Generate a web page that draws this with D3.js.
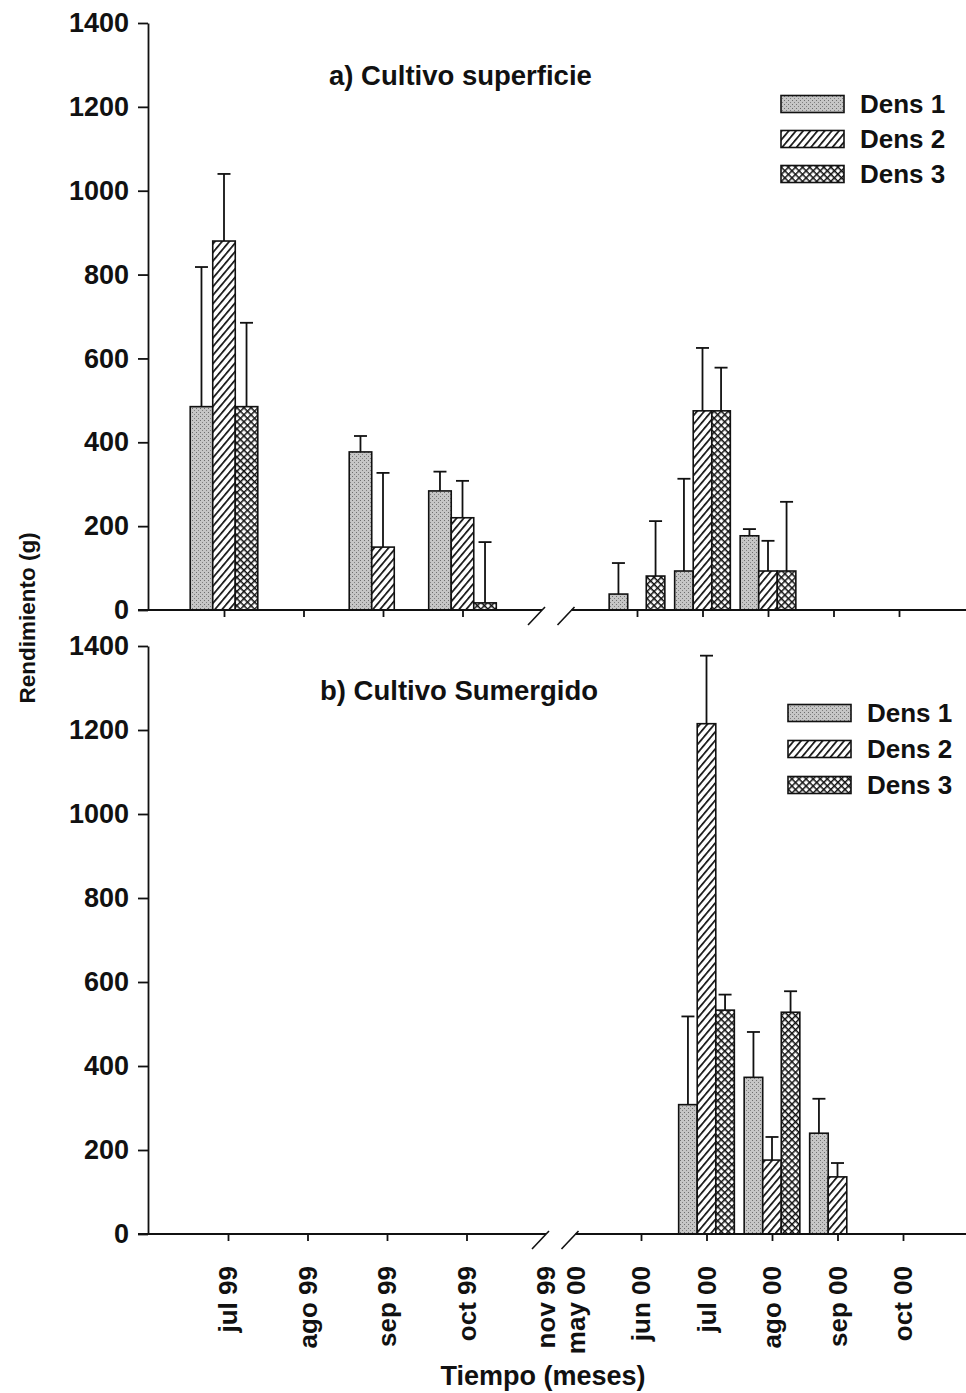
<!DOCTYPE html>
<html lang="es">
<head>
  <meta charset="UTF-8">
  <title>Rendimiento por densidad</title>
  <script src="https://d3js.org/d3.v7.min.js"></script>
  <style>
    body { margin: 0; padding: 0; background: #fff; }
    svg { display: block; font-family: "Liberation Sans", Arial, sans-serif; }
    .axis text { font-size: 27px; font-weight: bold; fill: #111; }
    .axis path, .axis line { stroke: #111; stroke-width: 1.8; }
  </style>
</head>
<body>
<svg width="966" height="1393"></svg>

<script>
  // months on the x axis (nov 99 / may 00 sit on the axis break)
  const months = ["jul 99","ago 99","sep 99","oct 99","nov 99","may 00","jun 00","jul 00","ago 00","sep 00","oct 00"];
  const series = ["Dens 1","Dens 2","Dens 3"];
  const yTicks = [0,200,400,600,800,1000,1200,1400];

  // a) Cultivo superficie  (mean, upper error)
  const supDens1    = [485,0,377,284,0,0,38,93,177,0,0];
  const supDens1Err = [333,0,38,46,0,0,74,220,16,0,0];
  const supDens2    = [880,0,150,220,0,0,0,475,93,0,0];
  const supDens2Err = [160,0,177,88,0,0,0,150,72,0,0];
  const supDens3    = [485,0,0,17,0,0,81,475,93,0,0];
  const supDens3Err = [200,0,0,145,0,0,131,103,165,0,0];

  // b) Cultivo Sumergido
  const sumDens1    = [0,0,0,0,0,0,0,308,373,240,0];
  const sumDens1Err = [0,0,0,0,0,0,0,210,108,82,0];
  const sumDens2    = [0,0,0,0,0,0,0,1215,176,136,0];
  const sumDens2Err = [0,0,0,0,0,0,0,162,55,33,0];
  const sumDens3    = [0,0,0,0,0,0,0,533,528,0,0];
  const sumDens3Err = [0,0,0,0,0,0,0,37,50,0,0];

  const svg = d3.select("svg");
  const defs = svg.append("defs");

  // fill patterns
  const p1 = defs.append("pattern").attr("id","pat0").attr("patternUnits","userSpaceOnUse")
    .attr("width",4).attr("height",4);
  p1.append("rect").attr("width",4).attr("height",4).attr("fill","#c6c6c6");
  p1.append("rect").attr("x",0).attr("y",0).attr("width",1).attr("height",1).attr("fill","#6e6e6e");
  p1.append("rect").attr("x",2).attr("y",2).attr("width",1).attr("height",1).attr("fill","#808080");

  const p2 = defs.append("pattern").attr("id","pat1").attr("patternUnits","userSpaceOnUse")
    .attr("width",5.5).attr("height",5.5).attr("patternTransform","rotate(40)");
  p2.append("rect").attr("width",5.5).attr("height",5.5).attr("fill","#fff");
  p2.append("line").attr("x1",0).attr("y1",0).attr("x2",0).attr("y2",5.5)
    .attr("stroke","#111").attr("stroke-width",3.4);

  const p3 = defs.append("pattern").attr("id","pat2").attr("patternUnits","userSpaceOnUse")
    .attr("width",5).attr("height",5).attr("patternTransform","rotate(45)");
  p3.append("rect").attr("width",5).attr("height",5).attr("fill","#fff");
  p3.append("line").attr("x1",0).attr("y1",0).attr("x2",0).attr("y2",5)
    .attr("stroke","#111").attr("stroke-width",3);
  p3.append("line").attr("x1",0).attr("y1",0).attr("x2",5).attr("y2",0)
    .attr("stroke","#111").attr("stroke-width",3);

  function drawPanel(cfg) {
    const g = svg.append("g");
    // piecewise x scale with a break between nov 99 and may 00
    const x = d3.scaleLinear().domain([0,4,5,10]).range(cfg.xRange);
    const y = d3.scaleLinear().domain([0,1400]).range([cfg.y0, cfg.y1]);
    const yb = y(0);

    // bars
    const data = [];
    cfg.values.forEach((vals, j) => {
      vals.forEach((v, i) => {
        if (v > 0) data.push({ i, j, v, e: cfg.errors[j][i] });
      });
    });
    const step = i => i <= 4 ? x(1) - x(0) : x(6) - x(5);
    const bw = i => 0.85 * step(i) / 3;
    const bx = d => x(d.i) + (d.j - 1.5) * bw(d.i);

    // error bars
    g.selectAll(".err").data(data.filter(d => d.e > 0)).join("g").attr("class","err")
      .each(function(d) {
        const cx = bx(d) + bw(d.i) / 2;
        const s = d3.select(this);
        s.append("line").attr("x1",cx).attr("x2",cx).attr("y1",y(d.v)).attr("y2",y(d.v + d.e))
          .attr("stroke","#111").attr("stroke-width",1.8);
        s.append("line").attr("x1",cx - 6.5).attr("x2",cx + 6.5).attr("y1",y(d.v + d.e)).attr("y2",y(d.v + d.e))
          .attr("stroke","#111").attr("stroke-width",1.8);
      });

    g.selectAll(".bar").data(data).join("rect").attr("class","bar")
      .attr("x", bx).attr("y", d => y(d.v))
      .attr("width", d => bw(d.i)).attr("height", d => yb - y(d.v))
      .attr("fill", d => `url(#pat${d.j})`)
      .attr("stroke","#111").attr("stroke-width",1.6);

    // y axis
    g.append("g").attr("class","axis").attr("transform",`translate(${cfg.yAxisX},0)`)
      .call(d3.axisLeft(y).tickValues(yTicks).tickFormat(d3.format("d"))
        .tickSize(10).tickSizeOuter(0).tickPadding(9));

    // x axis ticks (no ticks at the break)
    const xa = g.append("g").attr("class","axis").attr("transform",`translate(0,${yb})`)
      .call(d3.axisBottom(x).tickValues([0,1,2,3,6,7,8,9,10]).tickFormat("").tickSize(7));
    xa.select(".domain").remove();

    // broken baseline
    const bA = x(4), bB = x(5);
    [[cfg.yAxisX - 10, bA], [bB, 966]].forEach(s => {
      g.append("line").attr("x1",s[0]).attr("x2",s[1]).attr("y1",yb).attr("y2",yb)
        .attr("stroke","#111").attr("stroke-width",1.8);
    });
    [bA, bB].forEach(c => {
      g.append("line").attr("x1",c - 14).attr("y1",yb + 15).attr("x2",c + 3).attr("y2",yb - 3)
        .attr("stroke","#111").attr("stroke-width",1.6);
    });

    // panel title
    g.append("text").attr("x",cfg.titleX).attr("y",cfg.titleY)
      .attr("font-size",cfg.titleSize).attr("font-weight","bold").attr("fill","#111")
      .text(cfg.title);

    // legend
    series.forEach((name, j) => {
      const cy = cfg.legY + j * cfg.legStep;
      g.append("rect").attr("x",cfg.legX).attr("y",cy - 8.5).attr("width",63).attr("height",17)
        .attr("fill",`url(#pat${j})`).attr("stroke","#111").attr("stroke-width",1.6);
      g.append("text").attr("x",cfg.legX + 79).attr("y",cy + 9)
        .attr("font-size",26).attr("font-weight","bold").attr("fill","#111").text(name);
    });

    return { x, y };
  }

  drawPanel({
    xRange: [224, 542, 571.5, 899], y0: 610, y1: 23, yAxisX: 148,
    values: [supDens1, supDens2, supDens3], errors: [supDens1Err, supDens2Err, supDens3Err],
    title: "a) Cultivo superficie", titleX: 329, titleY: 85, titleSize: 27.5,
    legX: 781, legY: 104, legStep: 35
  });

  const bottom = drawPanel({
    xRange: [228, 546, 575.5, 903], y0: 1234, y1: 646, yAxisX: 148,
    values: [sumDens1, sumDens2, sumDens3], errors: [sumDens1Err, sumDens2Err, sumDens3Err],
    title: "b) Cultivo Sumergido", titleX: 320, titleY: 700, titleSize: 27.5,
    legX: 788, legY: 713, legStep: 36
  });

  // month labels under the bottom panel
  svg.append("g").selectAll("text").data(months).join("text")
    .attr("transform", (d, i) => `translate(${bottom.x(i)},1266) rotate(-90)`)
    .attr("text-anchor","end").attr("dy","0.36em")
    .attr("font-size",26).attr("font-weight","bold").attr("fill","#111")
    .text(d => d);

  // axis titles
  svg.append("text").attr("transform","translate(27,618) rotate(-90)")
    .attr("text-anchor","middle").attr("dy","0.36em")
    .attr("font-size",22.5).attr("font-weight","bold").attr("fill","#111")
    .text("Rendimiento (g)");

  svg.append("text").attr("x",543).attr("y",1385)
    .attr("text-anchor","middle")
    .attr("font-size",27).attr("font-weight","bold").attr("fill","#111")
    .text("Tiempo (meses)");
</script>
</body>
</html>
